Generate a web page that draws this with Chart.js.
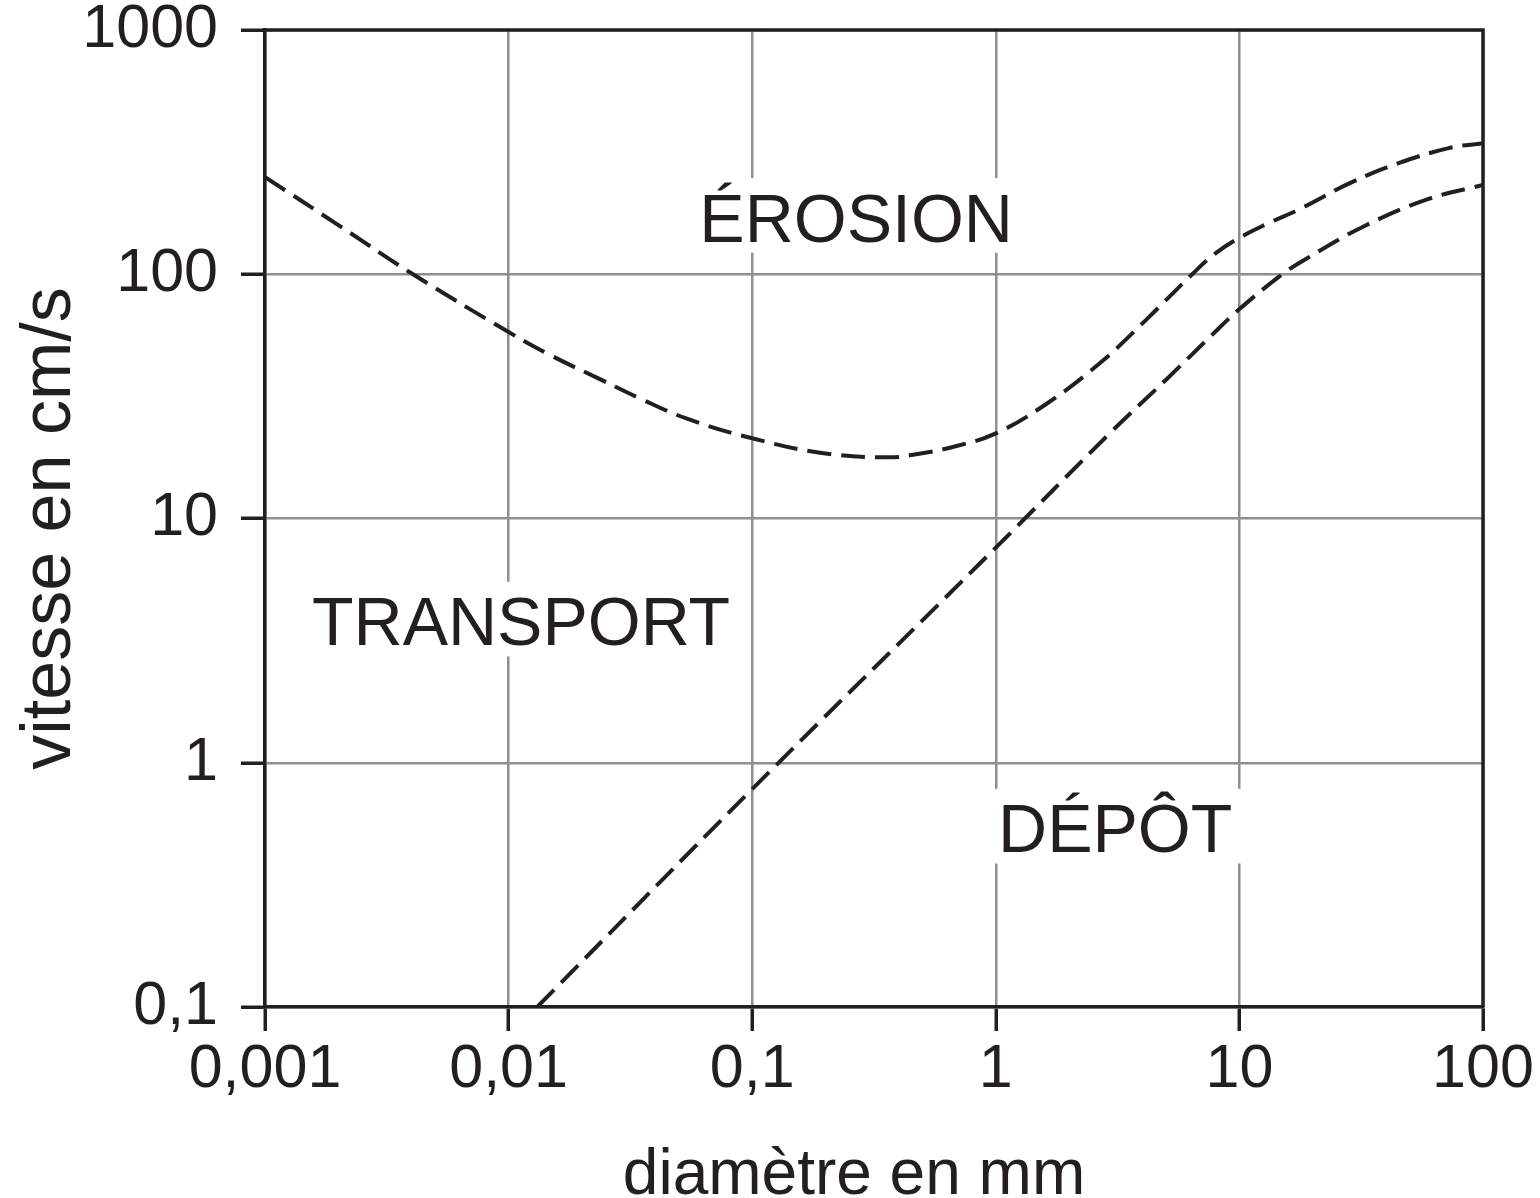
<!DOCTYPE html>
<html><head><meta charset="utf-8">
<script src="https://cdn.jsdelivr.net/npm/chart.js@4.4.1/dist/chart.umd.min.js"></script>
<style>html,body{margin:0;padding:0;background:#fff;}#wrap{width:1540px;height:1198px;position:relative;}</style>
</head><body><div id="wrap"><canvas id="c"></canvas></div>
<script>
// ---- data ----
const xTickValues = [0.001, 0.01, 0.1, 1, 10, 100];
const xTickLabels = ['0,001', '0,01', '0,1', '1', '10', '100'];
const yTickValues = [0.1, 1, 10, 100, 1000];
const yTickLabels = ['0,1', '1', '10', '100', '1000'];

const erosionDiameters = [0.001, 0.002, 0.00405, 0.01, 0.0148, 0.0237, 0.0356, 0.0547, 0.1, 0.19, 0.36, 0.5, 0.69, 1, 1.6, 2.7, 4.2, 6.4, 8, 10, 13, 17.7, 28.4, 45, 73, 100];
const erosionSpeeds    = [250, 159, 100, 58, 46.7, 37.2, 30.6, 25.5, 21.3, 18.6, 17.8, 18.5, 19.8, 22.3, 29.3, 43.6, 66, 100, 122, 141, 161, 185, 236, 285, 329, 344];

const depositDiameters = [0.0131, 0.1, 1, 3, 5, 7.8, 10, 15, 18.6, 32.8, 59.4, 100];
const depositSpeeds    = [0.1, 0.78, 7.6, 22.8, 37, 57, 72, 100, 115, 158, 203, 232];

const xTitle = 'diamètre en mm';
const yTitle = 'vitesse en cm/s';
const regionNames = ['ÉROSION', 'TRANSPORT', 'DÉPÔT'];
const regionDiameters = [0.267, 0.01125, 3.09];
const regionSpeeds = [171, 3.8, 0.54];

// ---- styles ----
const INK = '#231f20';
const GRID = '#8a9096';
const FONT = '"Liberation Sans", Arial, Helvetica, sans-serif';

const toPoints = (xs, ys) => xs.map((v, i) => ({ x: v, y: ys[i] }));

const regionLabels = {
  id: 'regionLabels',
  beforeDatasetsDraw(chart) {
    const { ctx, scales: { x, y } } = chart;
    ctx.save();
    const size = 68;
    ctx.font = size + 'px ' + FONT;
    ctx.textAlign = 'center';
    ctx.textBaseline = 'alphabetic';
    regionNames.forEach((t, i) => {
      const px = x.getPixelForValue(regionDiameters[i]);
      const py = y.getPixelForValue(regionSpeeds[i]);
      const w = ctx.measureText(t).width;
      const cap = size * 0.716;
      const base = py + cap / 2;
      ctx.fillStyle = '#fff';
      ctx.fillRect(px - w / 2 - 10, base - cap - 15, w + 20, cap + 26);
      ctx.fillStyle = INK;
      ctx.fillText(t, px, base);
    });
    ctx.restore();
  }
};

const frameAndTitles = {
  id: 'frameAndTitles',
  afterDraw(chart) {
    const { ctx, chartArea: a } = chart;
    ctx.save();
    ctx.strokeStyle = INK;
    ctx.lineWidth = 3.5;
    ctx.beginPath();
    ctx.moveTo(a.left, a.top);
    ctx.lineTo(a.right, a.top);
    ctx.lineTo(a.right, a.bottom);
    ctx.stroke();
    ctx.fillStyle = INK;
    ctx.textBaseline = 'alphabetic';
    ctx.textAlign = 'center';
    ctx.font = '64px ' + FONT;
    ctx.fillText(xTitle, (a.left + a.right) / 2 - 20, 1194);
    ctx.translate(70, (a.top + a.bottom) / 2 + 10);
    ctx.rotate(-Math.PI / 2);
    ctx.font = '70px ' + FONT;
    ctx.fillText(yTitle, 0, 0);
    ctx.restore();
  }
};

const lineStyle = {
  borderColor: INK,
  borderWidth: 4,
  borderDash: [24, 10],
  pointRadius: 0,
  fill: false,
  tension: 0.4
};

new Chart(document.getElementById('c'), {
  type: 'line',
  data: {
    datasets: [
      Object.assign({ label: 'érosion', data: toPoints(erosionDiameters, erosionSpeeds) }, lineStyle),
      Object.assign({ label: 'dépôt', data: toPoints(depositDiameters, depositSpeeds) }, lineStyle)
    ]
  },
  options: {
    responsive: true,
    maintainAspectRatio: false,
    animation: false,
    layout: { padding: { top: 30, right: 57, left: 0, bottom: 0 } },
    plugins: { legend: { display: false }, tooltip: { enabled: false } },
    scales: {
      x: {
        type: 'logarithmic',
        min: 0.001, max: 100,
        afterBuildTicks: s => { s.ticks = xTickValues.map(v => ({ value: v })); },
        afterFit: s => { s.height = 191; s.paddingLeft = 0; s.paddingRight = 0; s.paddingTop = 0; s.paddingBottom = 0; },
        ticks: {
          autoSkip: false, maxRotation: 0, minRotation: 0,
          padding: 9, color: INK,
          font: { size: 61, family: FONT, lineHeight: 1 },
          callback: (v, i) => xTickLabels[i]
        },
        grid: { color: GRID, lineWidth: 2.5, tickColor: INK, tickWidth: 3.5, tickLength: 24 },
        border: { display: true, color: INK, width: 3.5 }
      },
      y: {
        type: 'logarithmic',
        min: 0.1, max: 1000,
        afterBuildTicks: s => { s.ticks = yTickValues.map(v => ({ value: v })); },
        afterFit: s => { s.width = 265; s.paddingLeft = 0; s.paddingRight = 0; s.paddingTop = 0; s.paddingBottom = 0; },
        ticks: {
          autoSkip: false,
          padding: 23, color: INK,
          font: { size: 61, family: FONT, lineHeight: 1 },
          callback: (v, i) => yTickLabels[i]
        },
        grid: { color: GRID, lineWidth: 2.5, tickColor: INK, tickWidth: 3.5, tickLength: 24 },
        border: { display: true, color: INK, width: 3.5 }
      }
    }
  },
  plugins: [regionLabels, frameAndTitles]
});
</script>
</body></html>
